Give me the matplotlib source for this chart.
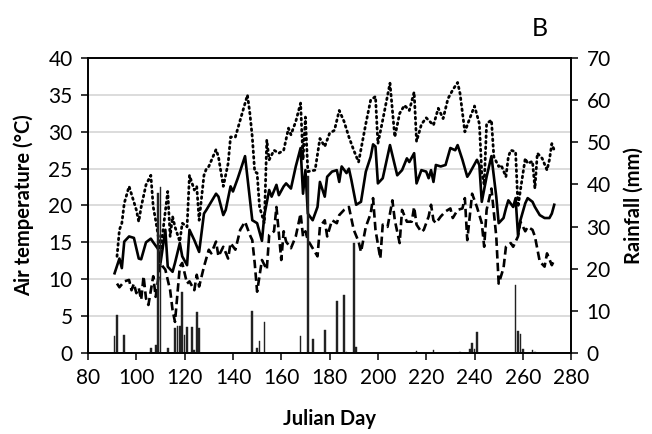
import matplotlib
matplotlib.use("Agg")
import matplotlib.pyplot as plt
import numpy as np

plt.rcParams['font.family'] = ['Lato', 'DejaVu Sans']

# Daily mean air temperature (solid)
mean_days = [91, 93, 94, 95, 97, 99, 101, 102, 104, 106, 107, 109, 110, 111, 112, 113,
             115, 116, 118, 119, 121, 122, 124, 126, 128, 129, 131, 133, 134, 136, 137,
             139, 140, 142, 145, 148, 150, 152, 153, 155, 156, 158, 159, 161, 162, 164,
             166, 168, 169, 170, 171, 173, 175, 176, 178, 179, 181, 183, 184, 185, 187,
             188, 189, 191, 193, 195, 197, 198, 199, 200, 202, 205, 208, 210, 212, 213,
             215, 216, 218, 220, 221, 222, 223, 224, 226, 228, 230, 232, 233, 235, 237,
             238, 241, 242, 243, 245, 247, 249, 250, 252, 253, 254, 256, 257, 258, 259,
             261, 262, 264, 265, 267, 269, 271, 272, 273]
mean_temp = [10.8, 12.8, 11.5, 15.1, 15.8, 15.6, 12.8, 12.7, 15.0, 15.5, 15.0, 14.1, 12.2,
             14.4, 16.7, 11.7, 11.0, 12.2, 14.9, 13.1, 11.9, 16.7, 15.3, 13.7, 18.9, 19.4,
             20.5, 21.6, 21.2, 18.7, 19.4, 22.6, 21.9, 23.7, 26.7, 18.0, 17.6, 15.2, 18.7,
             22.1, 21.2, 22.8, 21.4, 22.6, 23.0, 22.3, 25.3, 27.8, 21.6, 24.8, 18.9, 18.0,
             19.8, 23.2, 21.2, 23.9, 24.6, 24.8, 23.2, 25.3, 24.4, 25.0, 23.5, 20.1, 20.5,
             24.6, 26.6, 28.3, 28.0, 23.0, 23.7, 28.2, 24.1, 24.8, 26.4, 25.9, 27.1, 23.0,
             24.8, 24.6, 23.7, 24.8, 23.2, 25.5, 25.3, 25.5, 27.8, 27.5, 28.2, 26.2, 23.9,
             24.4, 26.2, 25.5, 20.5, 23.9, 26.7, 21.2, 17.6, 18.3, 19.6, 20.7, 19.8, 21.0,
             16.0, 18.0, 20.3, 21.0, 20.5, 19.8, 18.7, 18.3, 18.3, 18.9, 20.1]

# Daily maximum air temperature (dotted)
max_days = [92, 93, 94, 95, 97, 100, 101, 102, 104, 106, 107, 108, 110, 111, 113, 114, 115,
            116, 118, 119, 121, 122, 124, 125, 126, 128, 129, 130, 133, 134, 136, 138, 139,
            141, 143, 146, 147, 148, 149, 150, 151, 153, 154, 155, 157, 159, 161, 163, 164,
            166, 168, 169, 170, 171, 174, 176, 178, 180, 182, 184, 186, 188, 190, 192, 195,
            197, 199, 200, 202, 205, 207, 209, 211, 213, 215, 216, 218, 220, 223, 225, 227,
            229, 231, 233, 234, 236, 238, 240, 242, 243, 244, 245, 247, 248, 250, 251, 253,
            254, 255, 257, 258, 259, 261, 262, 264, 265, 266, 268, 270, 271, 272, 273]
max_temp = [13.1, 16.7, 17.6, 20.3, 22.6, 19.4, 17.8, 19.8, 22.8, 24.1, 19.8, 18.0, 14.0,
            16.5, 21.9, 15.8, 18.5, 17.1, 15.1, 17.6, 17.1, 24.1, 22.1, 22.6, 18.0, 24.1,
            25.0, 25.3, 27.6, 26.6, 22.6, 25.7, 29.3, 29.3, 31.6, 35.0, 32.5, 29.3, 24.6,
            24.4, 19.8, 17.6, 28.9, 26.2, 27.5, 27.1, 27.5, 30.5, 29.6, 31.4, 33.9, 26.2,
            32.0, 24.6, 24.8, 29.1, 28.0, 29.8, 30.2, 32.9, 31.4, 29.3, 27.5, 25.9, 31.1,
            34.3, 34.8, 28.4, 31.6, 36.6, 29.3, 32.5, 33.6, 32.9, 35.4, 28.7, 31.0, 31.9,
            30.9, 33.2, 31.8, 34.5, 35.7, 36.7, 35.2, 30.0, 31.8, 33.5, 31.1, 24.4, 22.8,
            31.1, 31.6, 26.6, 25.3, 25.5, 23.9, 26.6, 27.5, 27.3, 19.8, 22.1, 26.4, 25.7,
            26.0, 22.3, 27.1, 26.4, 24.8, 26.2, 28.4, 27.5]

# Daily minimum air temperature (dashed)
min_days = [92, 93, 95, 97, 98, 99, 100, 101, 102, 103, 104, 105, 107, 108, 110, 111, 112,
            114, 115, 116, 118, 119, 121, 122, 124, 125, 126, 128, 130, 131, 133, 134, 136,
            138, 139, 141, 143, 145, 147, 148, 149, 150, 152, 154, 155, 157, 158, 160, 161,
            162, 164, 166, 168, 169, 170, 171, 173, 175, 176, 178, 179, 181, 183, 184, 186,
            188, 190, 192, 193, 195, 197, 198, 199, 201, 202, 204, 206, 207, 209, 210, 212,
            214, 215, 216, 218, 219, 220, 221, 222, 223, 224, 226, 228, 230, 231, 233, 235,
            236, 237, 239, 241, 243, 244, 245, 247, 249, 250, 252, 253, 255, 256, 258, 259,
            261, 262, 264, 265, 267, 269, 270, 272, 273]
min_temp = [9.4, 8.9, 9.7, 9.9, 8.5, 9.4, 8.1, 8.8, 7.2, 10.4, 7.4, 6.5, 10.4, 7.6, 12.2,
            11.7, 11.3, 8.5, 5.8, 4.2, 11.7, 12.2, 9.4, 9.7, 8.5, 10.6, 9.0, 11.7, 14.0,
            13.5, 15.1, 13.1, 14.4, 12.8, 14.9, 14.0, 16.7, 17.8, 16.0, 15.3, 12.2, 8.3,
            12.6, 11.3, 16.0, 16.5, 19.8, 12.6, 16.5, 15.1, 14.2, 15.8, 18.9, 15.8, 16.5,
            15.3, 14.2, 13.1, 17.1, 18.0, 15.8, 18.0, 17.6, 18.7, 19.4, 19.8, 16.7, 15.1,
            13.7, 17.1, 18.9, 21.0, 16.7, 12.8, 17.4, 17.1, 20.7, 18.0, 14.9, 19.4, 17.8,
            17.8, 19.8, 17.4, 16.4, 16.7, 17.6, 18.5, 20.1, 18.0, 17.6, 18.5, 19.2, 19.6,
            18.3, 19.4, 19.6, 21.0, 15.3, 21.6, 19.8, 17.6, 14.4, 19.4, 22.3, 15.8, 9.4,
            11.5, 14.4, 14.9, 14.4, 15.8, 17.8, 16.5, 17.1, 16.7, 15.8, 12.4, 11.7, 13.5,
            11.9, 12.6]

# Daily rainfall (bars, right axis)
rain_days = [91, 92, 95, 106, 108, 109, 110, 113, 116, 117, 118, 119, 120, 121, 123, 124,
             125, 126, 148, 150, 151, 153, 168, 171, 173, 178, 183, 186, 187, 190, 191, 216,
             223, 234, 238, 239, 240, 241, 257, 258, 259, 260, 264, 265]
rain_mm = [3.9, 8.9, 4.3, 1.1, 1.9, 38.0, 39.5, 1.1, 5.9, 6.4, 6.4, 14.4, 4.3, 6.1, 6.1, 0.6,
           9.8, 5.9, 10.0, 1.1, 2.7, 7.4, 4.1, 42.0, 3.3, 5.5, 12.2, 13.8, 0.3, 26.0, 1.3,
           0.5, 0.7, 0.3, 1.0, 2.3, 1.0, 5.0, 16.1, 5.3, 4.4, 1.0, 0.7, 0.3]

fig = plt.figure(figsize=(6.52, 4.34), dpi=100)
ax = fig.add_axes([0.135, 0.187, 0.741, 0.679])
ax2 = ax.twinx()

ax.plot(max_days, max_temp, color='black', linestyle=(0, (0.6, 1.4)), linewidth=2.0,
        dash_capstyle='round')
ax.plot(mean_days, mean_temp, color='black', linestyle='-', linewidth=1.9)
ax.plot(min_days, min_temp, color='black', linestyle=(0, (3.2, 1.6)), linewidth=1.9)

ax2.bar(rain_days, rain_mm, width=0.7, color='#222222', edgecolor='#222222', linewidth=0.3)

ax.set_xlim(80, 280)
ax.set_ylim(0, 40)
ax2.set_ylim(0, 70)
ax.set_xticks(np.arange(80, 281, 20))
ax.set_yticks(np.arange(0, 41, 5))
ax2.set_yticks(np.arange(0, 71, 10))

ax.yaxis.grid(True, color='#d9d9d9', linewidth=1.3)
ax.set_axisbelow(True)

for a in (ax, ax2):
    for s in a.spines.values():
        s.set_color('black')
        s.set_linewidth(1.2)
ax.tick_params(axis='both', direction='out', length=5, width=1.1, labelsize=15,
               colors='black', pad=6)
ax2.tick_params(axis='y', direction='out', length=5, width=1.1, labelsize=15,
                colors='black', pad=6)

ax.set_xlabel('Julian Day', fontsize=14.5, fontweight='bold', labelpad=15)
ax.set_ylabel('Air temperature (°C)', fontsize=14.5, fontweight='bold', labelpad=10)
ax2.set_ylabel('Rainfall (mm)', fontsize=14.5, fontweight='bold', labelpad=9)

fig.text(0.828, 0.935, 'B', fontsize=18, ha='center', va='center')

fig.savefig('out.png', dpi=100)
